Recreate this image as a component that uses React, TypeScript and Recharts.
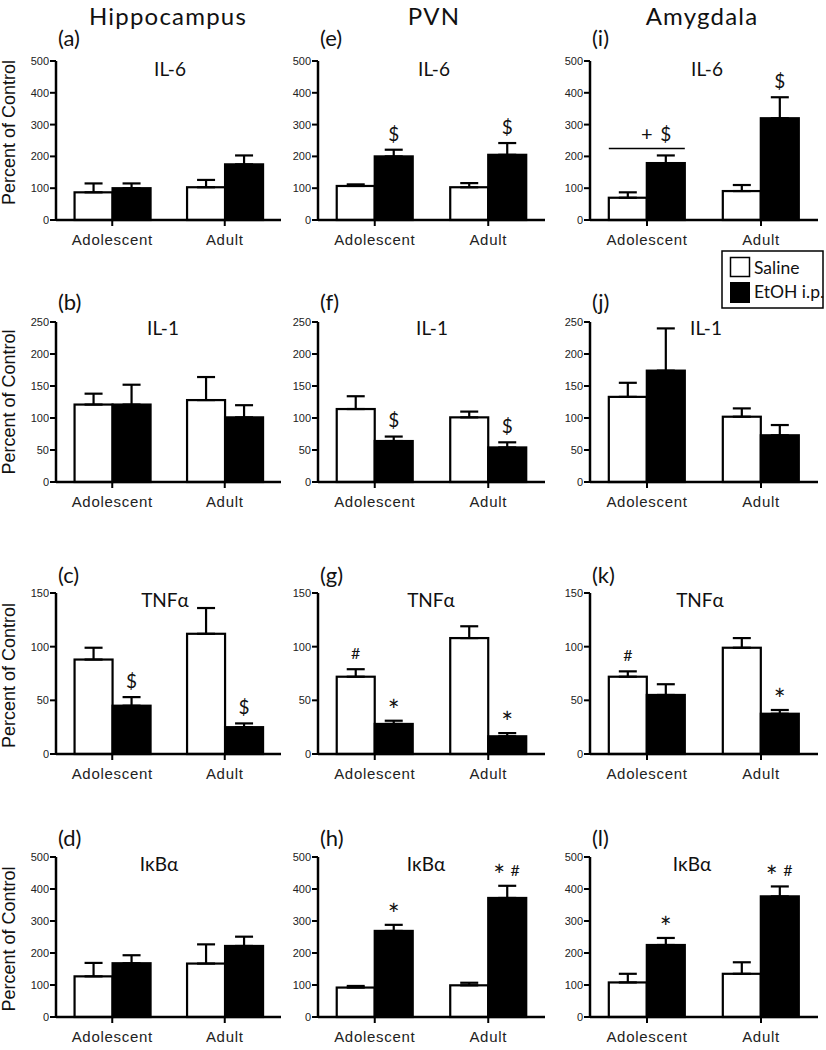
import React from 'react';
import { BarChart, Bar, XAxis, YAxis, ErrorBar } from 'recharts';

const groups = ['Adolescent', 'Adult'];

const ticks500 = [0, 100, 200, 300, 400, 500];
const ticks250 = [0, 50, 100, 150, 200, 250];
const ticks150 = [0, 50, 100, 150];

// Hippocampus
const hipIl6Saline = [87, 103];
const hipIl6SalineErr = [28, 23];
const hipIl6Etoh = [100, 175];
const hipIl6EtohErr = [15, 28];

const hipIl1Saline = [121, 128];
const hipIl1SalineErr = [17, 36];
const hipIl1Etoh = [121, 101];
const hipIl1EtohErr = [31, 19];

const hipTnfSaline = [88, 112];
const hipTnfSalineErr = [11, 24];
const hipTnfEtoh = [45, 25];
const hipTnfEtohErr = [8, 3.5];
const hipTnfEtohMarks = ['$', '$'];

const hipIkbSaline = [127, 167];
const hipIkbSalineErr = [42, 60];
const hipIkbEtoh = [168, 222];
const hipIkbEtohErr = [25, 29];

// PVN
const pvnIl6Saline = [107, 103];
const pvnIl6SalineErr = [5, 13];
const pvnIl6Etoh = [200, 205];
const pvnIl6EtohErr = [21, 37];
const pvnIl6EtohMarks = ['$', '$'];

const pvnIl1Saline = [114, 101];
const pvnIl1SalineErr = [20, 9];
const pvnIl1Etoh = [64, 54];
const pvnIl1EtohErr = [7, 8];
const pvnIl1EtohMarks = ['$', '$'];

const pvnTnfSaline = [72, 108];
const pvnTnfSalineErr = [7, 11];
const pvnTnfEtoh = [28, 16.5];
const pvnTnfEtohErr = [3, 3];
const pvnTnfSalineMarks = ['#', ''];
const pvnTnfEtohMarks = ['*', '*'];

const pvnIkbSaline = [92, 99];
const pvnIkbSalineErr = [5, 8];
const pvnIkbEtoh = [269, 372];
const pvnIkbEtohErr = [19, 38];
const pvnIkbEtohMarks = ['*', '* #'];

// Amygdala
const amyIl6Saline = [70, 91];
const amyIl6SalineErr = [17, 19];
const amyIl6Etoh = [179, 320];
const amyIl6EtohErr = [24, 66];
const amyIl6EtohMarks = ['', '$'];
const amyIl6Bracket = { index: 0, level: 225, marks: ['+', '$'] };

const amyIl1Saline = [133, 102];
const amyIl1SalineErr = [22, 13];
const amyIl1Etoh = [174, 73];
const amyIl1EtohErr = [66, 16];

const amyTnfSaline = [72, 99];
const amyTnfSalineErr = [5, 9];
const amyTnfEtoh = [55, 37.5];
const amyTnfEtohErr = [10, 3.5];
const amyTnfSalineMarks = ['#', ''];
const amyTnfEtohMarks = ['', '*'];

const amyIkbSaline = [108, 135];
const amyIkbSalineErr = [27, 36];
const amyIkbEtoh = [225, 377];
const amyIkbEtohErr = [22, 31];
const amyIkbEtohMarks = ['*', '* #'];

const regions = ['Hippocampus', 'PVN', 'Amygdala'];

// layout
const colAxisX = [56, 318, 590];
const colAxisEnd = [281, 545, 818];
const colHeaderX = [168, 434, 702];
const rowPlotTop = [61, 322, 593, 857];
const rowPlotH = [159, 160, 161, 160];
const rowLetterY = [46, 310, 583, 846];
const rowTitleY = [69, 328, 600, 864];
const rowYLabelShift = [-8, 0, 2, 2];

const arial = "'Liberation Sans', Arial, sans-serif";
const calibri = "Lato, 'Noto Sans', sans-serif";

type Bracket = { index: number; level: number; marks: string[] };

interface PanelDef {
  letter: string;
  title: string;
  titleX: number;
  col: number;
  row: number;
  ticks: number[];
  saline: number[];
  salineErr: number[];
  etoh: number[];
  etohErr: number[];
  salineMarks?: string[];
  etohMarks?: string[];
  bracket?: Bracket;
}

const panels: PanelDef[] = [
  { letter: '(a)', title: 'IL-6', titleX: 170, col: 0, row: 0, ticks: ticks500, saline: hipIl6Saline, salineErr: hipIl6SalineErr, etoh: hipIl6Etoh, etohErr: hipIl6EtohErr },
  { letter: '(b)', title: 'IL-1', titleX: 163, col: 0, row: 1, ticks: ticks250, saline: hipIl1Saline, salineErr: hipIl1SalineErr, etoh: hipIl1Etoh, etohErr: hipIl1EtohErr },
  { letter: '(c)', title: 'TNFα', titleX: 165, col: 0, row: 2, ticks: ticks150, saline: hipTnfSaline, salineErr: hipTnfSalineErr, etoh: hipTnfEtoh, etohErr: hipTnfEtohErr, etohMarks: hipTnfEtohMarks },
  { letter: '(d)', title: 'IκBα', titleX: 159, col: 0, row: 3, ticks: ticks500, saline: hipIkbSaline, salineErr: hipIkbSalineErr, etoh: hipIkbEtoh, etohErr: hipIkbEtohErr },
  { letter: '(e)', title: 'IL-6', titleX: 434, col: 1, row: 0, ticks: ticks500, saline: pvnIl6Saline, salineErr: pvnIl6SalineErr, etoh: pvnIl6Etoh, etohErr: pvnIl6EtohErr, etohMarks: pvnIl6EtohMarks },
  { letter: '(f)', title: 'IL-1', titleX: 432, col: 1, row: 1, ticks: ticks250, saline: pvnIl1Saline, salineErr: pvnIl1SalineErr, etoh: pvnIl1Etoh, etohErr: pvnIl1EtohErr, etohMarks: pvnIl1EtohMarks },
  { letter: '(g)', title: 'TNFα', titleX: 431, col: 1, row: 2, ticks: ticks150, saline: pvnTnfSaline, salineErr: pvnTnfSalineErr, etoh: pvnTnfEtoh, etohErr: pvnTnfEtohErr, salineMarks: pvnTnfSalineMarks, etohMarks: pvnTnfEtohMarks },
  { letter: '(h)', title: 'IκBα', titleX: 426, col: 1, row: 3, ticks: ticks500, saline: pvnIkbSaline, salineErr: pvnIkbSalineErr, etoh: pvnIkbEtoh, etohErr: pvnIkbEtohErr, etohMarks: pvnIkbEtohMarks },
  { letter: '(i)', title: 'IL-6', titleX: 707, col: 2, row: 0, ticks: ticks500, saline: amyIl6Saline, salineErr: amyIl6SalineErr, etoh: amyIl6Etoh, etohErr: amyIl6EtohErr, etohMarks: amyIl6EtohMarks, bracket: amyIl6Bracket },
  { letter: '(j)', title: 'IL-1', titleX: 706, col: 2, row: 1, ticks: ticks250, saline: amyIl1Saline, salineErr: amyIl1SalineErr, etoh: amyIl1Etoh, etohErr: amyIl1EtohErr },
  { letter: '(k)', title: 'TNFα', titleX: 700, col: 2, row: 2, ticks: ticks150, saline: amyTnfSaline, salineErr: amyTnfSalineErr, etoh: amyTnfEtoh, etohErr: amyTnfEtohErr, salineMarks: amyTnfSalineMarks, etohMarks: amyTnfEtohMarks },
  { letter: '(l)', title: 'IκBα', titleX: 692, col: 2, row: 3, ticks: ticks500, saline: amyIkbSaline, salineErr: amyIkbSalineErr, etoh: amyIkbEtoh, etohErr: amyIkbEtohErr, etohMarks: amyIkbEtohMarks },
];

const markStyle: Record<string, { size: number; lift: number }> = {
  $: { size: 19, lift: 0.36 },
  '*': { size: 28, lift: 0.58 },
  '#': { size: 16, lift: 0.36 },
  '+': { size: 20, lift: 0.32 },
};

const renderMarks = (tokens: string[], cx: number, cy: number, gap = 16) =>
  tokens.map((t, i) => {
    const st = markStyle[t] ?? { size: 19, lift: 0.36 };
    const tx = cx + (i - (tokens.length - 1) / 2) * gap;
    return (
      <text key={i} x={tx} y={cy + st.size * st.lift} textAnchor="middle" fontFamily={calibri} fontSize={st.size} fill="#111">
        {t}
      </text>
    );
  });

const makeShape = (kind: 'saline' | 'etoh', bracket?: Bracket) => (props: any) => {
  const { x, y, width, height, payload, index, fill } = props;
  const top = Math.min(y, y + height);
  const h = Math.abs(height);
  const val = payload[kind];
  const ppu = val ? h / val : 0;
  const errPx = payload[`${kind}Top`] * ppu;
  const note: string = payload[`${kind}Note`] || '';
  const base = top + h;
  const cx = x + width / 2;
  return (
    <g>
      <rect x={x} y={top} width={width} height={h} fill={fill} stroke="#000" strokeWidth={2.2} />
      {note && renderMarks(note.split(' '), cx, top - errPx - 16)}
      {bracket && index === bracket.index && (
        <g>
          <line x1={x - width} x2={x + width} y1={base - bracket.level * ppu} y2={base - bracket.level * ppu} stroke="#000" strokeWidth={1.5} />
          {renderMarks(bracket.marks, x + width / 4, base - bracket.level * ppu - 14, width / 2)}
        </g>
      )}
    </g>
  );
};

const renderXTick = (props: any) => {
  const { x, y, payload } = props;
  return (
    <text x={x} y={y} dy="0.71em" textAnchor="middle" fontFamily={arial} fontSize={15} letterSpacing={0.7} fill="#222">
      {payload.value}
    </text>
  );
};

const renderYTick = (props: any) => {
  const { x, y, payload } = props;
  return (
    <text x={x} y={y} dy="0.355em" textAnchor="end" fontFamily={arial} fontSize={11} fill="#222">
      {payload.value}
    </text>
  );
};

const yLabel = (shift: number) => (props: any) => {
  const vb = props?.viewBox ?? { x: 0, y: 0, width: 0, height: 0 };
  const lx = (vb.x ?? 0) + 15;
  const ly = (vb.y ?? 0) + (vb.height ?? 0) / 2 + shift;
  return (
    <text x={lx} y={ly} transform={`rotate(-90 ${lx} ${ly})`} textAnchor="middle" fontFamily={arial} fontSize={18} fill="#111">
      Percent of Control
    </text>
  );
};

const axisStyle = { stroke: '#000', strokeWidth: 2.5 };
const tickStyle = { stroke: '#000', strokeWidth: 2 };

const Panel = ({ def }: { def: PanelDef }) => {
  const { col, row } = def;
  const yw = col === 0 ? 56 : 40;
  const left = colAxisX[col] - yw;
  const top = rowPlotTop[row] - 10;
  const plotW = colAxisEnd[col] - colAxisX[col];
  const width = yw + plotW + 6;
  const height = 10 + rowPlotH[row] + 30;

  const data = groups.map((g, i) => ({
    group: g,
    saline: def.saline[i],
    salineErr: [0, def.salineErr[i]],
    salineTop: def.salineErr[i],
    salineNote: def.salineMarks?.[i] ?? '',
    etoh: def.etoh[i],
    etohErr: [0, def.etohErr[i]],
    etohTop: def.etohErr[i],
    etohNote: def.etohMarks?.[i] ?? '',
  }));

  return (
    <div style={{ position: 'absolute', left, top }}>
      <BarChart
        width={width}
        height={height}
        data={data}
        margin={{ top: 10, right: 6, bottom: 0, left: 0 }}
        barCategoryGap="16.5%"
        barGap={0}
      >
        <XAxis
          dataKey="group"
          height={30}
          tickSize={6}
          tickMargin={8}
          axisLine={axisStyle}
          tickLine={tickStyle}
          tick={renderXTick}
          interval={0}
        />
        <YAxis
          width={yw}
          type="number"
          domain={[0, def.ticks[def.ticks.length - 1]]}
          ticks={def.ticks}
          interval={0}
          tickSize={6}
          tickMargin={1}
          axisLine={axisStyle}
          tickLine={tickStyle}
          tick={renderYTick}
          label={col === 0 ? yLabel(rowYLabelShift[row]) : undefined}
        />
        <Bar dataKey="saline" fill="#ffffff" shape={makeShape('saline')} isAnimationActive={false}>
          <ErrorBar dataKey="salineErr" width={9} strokeWidth={2.2} stroke="#000" direction="y" isAnimationActive={false} />
        </Bar>
        <Bar dataKey="etoh" fill="#000000" shape={makeShape('etoh', def.bracket)} isAnimationActive={false}>
          <ErrorBar dataKey="etohErr" width={9} strokeWidth={2.2} stroke="#000" direction="y" isAnimationActive={false} />
        </Bar>
      </BarChart>
    </div>
  );
};

const App = () => (
  <div style={{ position: 'absolute', left: 0, top: 0, width: 826, height: 1050, background: '#fff' }}>
    {panels.map((p) => (
      <Panel key={p.letter} def={p} />
    ))}
    <svg width={826} height={1050} style={{ position: 'absolute', left: 0, top: 0, pointerEvents: 'none' }}>
      {regions.map((r, i) => (
        <text key={r} x={colHeaderX[i]} y={25} textAnchor="middle" fontFamily={calibri} fontSize={24} letterSpacing={1.2} fill="#111">
          {r}
        </text>
      ))}
      {panels.map((p) => (
        <g key={p.letter}>
          <text x={colAxisX[p.col] + 2} y={rowLetterY[p.row]} fontFamily={calibri} fontSize={22} fill="#111">
            {p.letter}
          </text>
          <text x={p.titleX} y={rowTitleY[p.row] + 7} textAnchor="middle" fontFamily={calibri} fontSize={19} fill="#111">
            {p.title}
          </text>
        </g>
      ))}
      <g>
        <rect x={722} y={251} width={101} height={57} fill="#fff" stroke="#000" strokeWidth={1.5} />
        <rect x={730.5} y={257.5} width={19} height={19} fill="#fff" stroke="#000" strokeWidth={1.5} />
        <rect x={730} y={282} width={20} height={21} fill="#000" />
        <text x={754} y={274} fontFamily={calibri} fontSize={17.5} fill="#111">Saline</text>
        <text x={754} y={298} fontFamily={calibri} fontSize={17.5} fill="#111">EtOH i.p.</text>
      </g>
    </svg>
  </div>
);

export default App;
